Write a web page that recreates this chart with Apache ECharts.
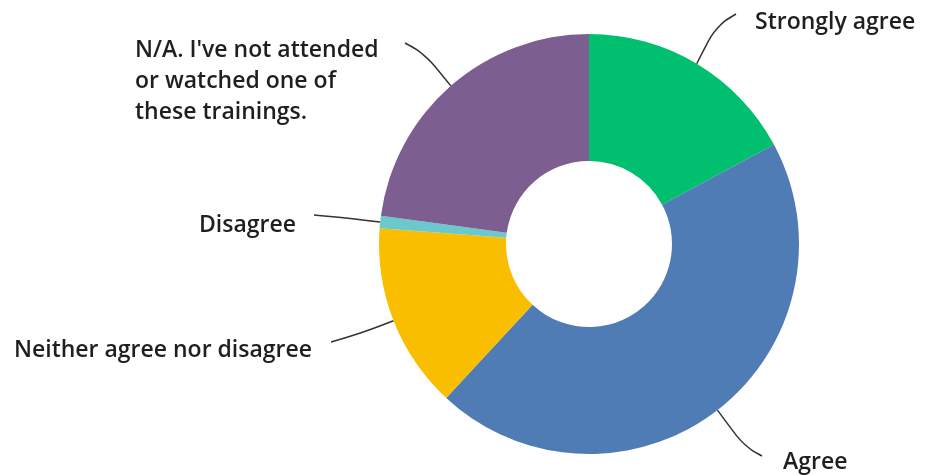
<!DOCTYPE html>
<html>
<head>
<meta charset="utf-8">
<script src="https://cdn.jsdelivr.net/npm/echarts@6/dist/echarts.min.js"></script>
<style>
  html, body { margin: 0; padding: 0; background: #fff; }
  #chart { width: 925px; height: 476px; }
</style>
</head>
<body>
<div id="chart"></div>
<script>
const categories = [
  "Strongly agree",
  "Agree",
  "Neither agree nor disagree",
  "Disagree",
  "N/A. I've not attended\nor watched one of\nthese trainings.",
]
const values = [18, 47, 15, 1, 24]
const colors = ["#00bf6f", "#507cb6", "#f9be00", "#6bc8cd", "#7d5e90"]

// where each label sits and how its leader line bends
const labelSpots = [
  { x: 755, y: 22, align: "left", mid: [716, 26], end: [736, 14] },
  { x: 783, y: 462, align: "left", mid: [744, 446], end: [762, 456] },
  { x: 312, y: 350, align: "right", mid: [362, 333], end: [331, 342] },
  { x: 296, y: 225, align: "right", mid: [348, 218], end: [314, 215] },
  { x: 135, y: 81, align: "left", mid: [425, 54], end: [405, 43] },
]

const myChart = echarts.init(document.getElementById("chart"))
const option = {
  animation: false,
  series: [
    {
      type: "pie",
      center: [589, 244],
      radius: [83, 210],
      startAngle: 90,
      clockwise: true,
      avoidLabelOverlap: false,
      emphasis: { disabled: true },
      label: {
        show: true,
        position: "outside",
        color: "#1f1f1f",
        fontFamily: "Open Sans",
        fontWeight: 600,
        fontSize: 23,
        lineHeight: 31,
      },
      labelLine: {
        show: true,
        smooth: 0.4,
        lineStyle: { color: "#333", width: 1.5 },
      },
      labelLayout: (params) => {
        const s = labelSpots[params.dataIndex]
        const start = params.labelLinePoints ? params.labelLinePoints[0] : s.mid
        return {
          x: s.x,
          y: s.y,
          align: s.align,
          verticalAlign: "middle",
          labelLinePoints: [start, s.mid, s.end],
        }
      },
      data: categories.map((name, i) => ({
        name: name,
        value: values[i],
        itemStyle: { color: colors[i] },
      })),
    },
  ],
}
myChart.setOption(option)
</script>
</body>
</html>
